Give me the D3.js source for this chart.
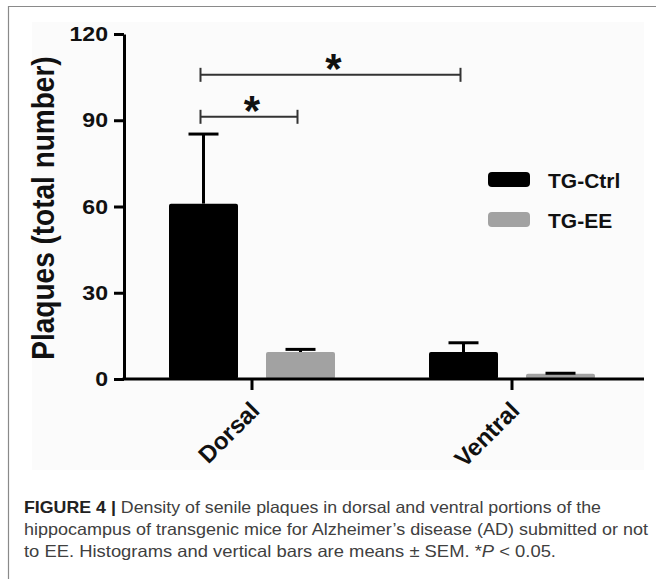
<!DOCTYPE html>
<html>
<head>
<meta charset="utf-8">
<script src="https://cdn.jsdelivr.net/npm/d3@7"></script>
<style>
  html, body { margin: 0; padding: 0; background: #fff; }
  svg { display: block; }
</style>
</head>
<body>
<svg id="chart" width="656" height="579"></svg>
<script>
// ---- data ----
const categories = ["Dorsal", "Ventral"];
const seriesNames = ["TG-Ctrl", "TG-EE"];
const ctrlMeans = [61.0, 9.4];
const ctrlSEM = [24.2, 3.2];
const eeMeans = [9.4, 1.8];
const eeSEM = [0.9, 0.2];
const yTicks = [0, 30, 60, 90, 120];
const yLabel = "Plaques (total number)";
// significance comparisons: [category, series] -> [category, series], bracket height in data units
const sigFrom = [["Dorsal", "TG-Ctrl"], ["Dorsal", "TG-Ctrl"]];
const sigTo = [["Ventral", "TG-Ctrl"], ["Dorsal", "TG-EE"]];
const sigLevel = [105.8, 91.2];
const sigMark = ["*", "*"];
const captionBold = "FIGURE 4 |";
const captionLines = [
  " Density of senile plaques in dorsal and ventral portions of the",
  "hippocampus of transgenic mice for Alzheimer\u2019s disease (AD) submitted or not",
  "to EE. Histograms and vertical bars are means \u00b1 SEM. *"
];
const captionTail = ["P", " < 0.05."];

const colors = { "TG-Ctrl": "#000000", "TG-EE": "#a2a2a2" };
const values = { "TG-Ctrl": ctrlMeans, "TG-EE": eeMeans };
const errors = { "TG-Ctrl": ctrlSEM, "TG-EE": eeSEM };

const svg = d3.select("#chart");
const FONT = "'Liberation Sans', Arial, Helvetica, sans-serif";

// frame
svg.append("line").attr("x1", 8).attr("x2", 656).attr("y1", 6.5).attr("y2", 6.5)
  .attr("stroke", "#8a8a8a").attr("stroke-width", 1.2);
svg.append("line").attr("x1", 8.5).attr("x2", 8.5).attr("y1", 6).attr("y2", 579)
  .attr("stroke", "#8a8a8a").attr("stroke-width", 1.2);
// faint chart image background
svg.append("rect").attr("x", 32).attr("y", 22).attr("width", 612).attr("height", 448)
  .attr("fill", "#fbfbfb");

// scales
const y = d3.scaleLinear().domain([0, 120]).range([379, 34]);
const x = d3.scaleBand().domain(categories).range([122, 642]);
const xSub = d3.scaleBand().domain(seriesNames).range([-83, 83]).paddingInner(28 / 97);

const barData = [];
categories.forEach((c, i) => seriesNames.forEach(s => {
  barData.push({ cat: c, ser: s, v: values[s][i], e: errors[s][i] });
}));
const bx = d => x(d.cat) + x.bandwidth() / 2 + xSub(d.ser);

// error bars (upper only)
const eg = svg.append("g");
barData.forEach(d => {
  const cx = bx(d) + xSub.bandwidth() / 2;
  eg.append("line").attr("x1", cx).attr("x2", cx).attr("y1", y(d.v)).attr("y2", y(d.v + d.e))
    .attr("stroke", "#000").attr("stroke-width", 3);
  eg.append("line").attr("x1", cx - 15).attr("x2", cx + 15)
    .attr("y1", y(d.v + d.e)).attr("y2", y(d.v + d.e))
    .attr("stroke", "#000").attr("stroke-width", 3);
});

svg.append("g").selectAll("rect").data(barData).join("rect")
  .attr("x", d => bx(d))
  .attr("y", d => y(d.v))
  .attr("width", xSub.bandwidth())
  .attr("height", d => y(0) - y(d.v))
  .attr("rx", 2)
  .attr("fill", d => colors[d.ser]);
eg.raise();

// y axis
const yAxis = svg.append("g").attr("transform", "translate(124,0)")
  .call(d3.axisLeft(y).tickValues(yTicks).tickSize(10).tickPadding(6).tickSizeOuter(0));
yAxis.select(".domain").attr("stroke", "#000").attr("stroke-width", 3);
yAxis.selectAll(".tick line").attr("stroke", "#000").attr("stroke-width", 3);
yAxis.selectAll(".tick text")
  .attr("x", null)
  .attr("transform", "translate(-16,0) scale(1.1,1)")
  .attr("font-family", FONT).attr("font-weight", "bold").attr("font-size", 21)
  .attr("fill", "#111");

// x axis
const xAxis = svg.append("g").attr("transform", "translate(0,379)")
  .call(d3.axisBottom(x).tickSize(11).tickSizeOuter(0).tickFormat(""));
xAxis.select(".domain").attr("d", "M122.5,0H644").attr("stroke", "#000").attr("stroke-width", 3);
xAxis.selectAll(".tick line").attr("stroke", "#000").attr("stroke-width", 3);

svg.append("g").selectAll("text").data(categories).join("text")
  .attr("transform", d => `translate(${x(d) + x.bandwidth() / 2 + 9},412) rotate(-45)`)
  .attr("text-anchor", "end")
  .attr("font-family", FONT).attr("font-weight", "bold").attr("font-size", 24)
  .attr("fill", "#111")
  .text(d => d);

// y label
svg.append("text")
  .attr("transform", "translate(54,208) rotate(-90) scale(1,1.12)")
  .attr("text-anchor", "middle")
  .attr("font-family", FONT).attr("font-weight", "bold").attr("font-size", 28)
  .attr("fill", "#111")
  .text(yLabel);

// significance brackets
const sg = svg.append("g");
sigLevel.forEach((lv, i) => {
  const [c1, s1] = sigFrom[i], [c2, s2] = sigTo[i];
  const x1 = x(c1) + x.bandwidth() / 2 + xSub(s1) + xSub.bandwidth() / 2 - 3;
  const x2 = x(c2) + x.bandwidth() / 2 + xSub(s2) + xSub.bandwidth() / 2 - 3;
  const yy = y(lv);
  sg.append("line").attr("x1", x1).attr("x2", x2).attr("y1", yy).attr("y2", yy)
    .attr("stroke", "#333").attr("stroke-width", 2);
  [x1, x2].forEach(xx => sg.append("line").attr("x1", xx).attr("x2", xx)
    .attr("y1", yy - 7).attr("y2", yy + 7).attr("stroke", "#333").attr("stroke-width", 2));
  sg.append("text").attr("x", (x1 + x2) / 2 + 3).attr("y", yy + 8)
    .attr("text-anchor", "middle")
    .attr("font-family", FONT).attr("font-weight", "bold").attr("font-size", 42)
    .attr("fill", "#111").text(sigMark[i]);
});

// legend
const lg = svg.append("g");
seriesNames.forEach((s, i) => {
  const ly = 172 + i * 40;
  lg.append("rect").attr("x", 488).attr("y", ly).attr("width", 42).attr("height", 15)
    .attr("rx", 4).attr("fill", colors[s]);
  lg.append("text").attr("x", 548).attr("y", ly + 15.5)
    .attr("font-family", FONT).attr("font-weight", "bold").attr("font-size", 21)
    .attr("fill", "#111").text(s);
});

// caption
const cg = svg.append("g");
const capLen = [577, 624, 532];
captionLines.forEach((ln, i) => {
  const t = cg.append("text").attr("x", 24).attr("y", 513 + i * 22)
    .attr("font-family", FONT).attr("font-size", 16.5)
    .attr("fill", "#404040")
    .attr("textLength", capLen[i]).attr("lengthAdjust", "spacingAndGlyphs");
  if (i === 0) t.append("tspan").attr("font-weight", "bold").attr("fill", "#222").text(captionBold);
  t.append("tspan").text(ln);
  if (i === 2) {
    t.append("tspan").attr("font-style", "italic").text(captionTail[0]);
    t.append("tspan").text(captionTail[1]);
  }
});
</script>
</body>
</html>
